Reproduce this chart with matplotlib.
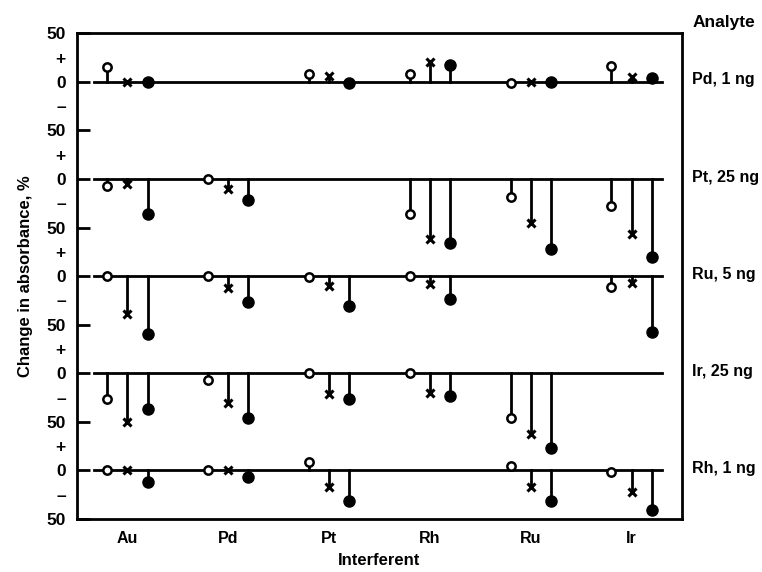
# Interference of platinum-group metals on each analyte (change in absorbance, %)

import numpy as np
import matplotlib
matplotlib.use("Agg")
import matplotlib.pyplot as plt

plt.rcParams["font.family"] = ["Liberation Sans", "DejaVu Sans"]
plt.rcParams["font.weight"] = "bold"

interferentes = ["Au", "Pd", "Pt", "Rh", "Ru", "Ir"]
analitos = ["Pd, 1 ng", "Pt, 25 ng", "Ru, 5 ng", "Ir, 25 ng", "Rh, 1 ng"]

# one row per analyte, one column per interferent (None = analyte itself)
circulo_aberto = [
    [15, None, 8, 8, -1, 16],
    [-7, 0, None, -36, -18, -28],
    [0, 0, -1, 0, None, -11],
    [-26, -7, 0, 0, -46, None],
    [0, 0, 9, None, 5, -2],
]
cruz = [
    [0, None, 6, 21, 0, 5],
    [-5, -10, None, -62, -45, -57],
    [-39, -12, -10, -8, None, -7],
    [-50, -31, -21, -20, -62, None],
    [0, 0, -17, None, -17, -22],
]
circulo_cheio = [
    [0, None, -1, 17, 0, 4],
    [-36, -22, None, -66, -72, -80],
    [-60, -27, -31, -23, None, -57],
    [-37, -46, -26, -23, -77, None],
    [-12, -7, -32, None, -32, -41],
]

series = [
    (circulo_aberto, -0.2, dict(marker="o", ms=6, mfc="white", mec="black", mew=1.8)),
    (cruz, 0.0, dict(marker="x", ms=5.5, mec="black", mew=2.2)),
    (circulo_cheio, 0.2, dict(marker="o", ms=8, mfc="black", mec="black")),
]

fig = plt.figure(figsize=(7.62, 5.72), dpi=100)
ax = fig.add_axes([0.101, 0.0927, 0.794, 0.849])

x_grupos = np.arange(len(interferentes))
for i, analito in enumerate(analitos):
    base = -100 * i
    ax.plot([-0.33, 5.3], [base, base], color="black", lw=2, zorder=2)
    for valores, dx, estilo in series:
        for j, v in enumerate(valores[i]):
            if v is None:
                continue
            x = x_grupos[j] + dx
            ax.plot([x, x], [base, base + v], color="black", lw=2, zorder=2)
            ax.plot(x, base + v, linestyle="none", zorder=3, **estilo)
    ax.text(5.6, base + 2, analito, fontsize=11.5, fontweight="bold",
            va="center", ha="left", clip_on=False)

ax.text(5.6, 61, "Analyte", fontsize=12.5, fontweight="bold",
        va="center", ha="left", clip_on=False)

ax.set_xlim(-0.5, 5.5)
ax.set_ylim(-450, 50)

ax.set_xticks(x_grupos)
ax.set_xticklabels(interferentes, fontsize=11.5, fontweight="bold")
ax.tick_params(axis="x", length=0, pad=9)

maiores = np.arange(50, -451, -50)
ax.set_yticks(maiores)
ax.set_yticklabels(["50" if v % 100 else "0" for v in maiores],
                   fontsize=12.5, fontweight="bold")
menores = np.arange(25, -426, -50)
ax.set_yticks(menores, minor=True)
ax.set_yticklabels(["+" if (v - 25) % 100 == 0 else "\u2013" for v in menores],
                   minor=True, fontsize=12.5, fontweight="bold")
ax.tick_params(axis="y", which="major", direction="in", length=9, width=2, pad=8)
ax.tick_params(axis="y", which="minor", length=0, pad=8)

for lado in ax.spines.values():
    lado.set_linewidth(2)

ax.set_xlabel("Interferent", fontsize=12, fontweight="bold", labelpad=5)
ax.set_ylabel("Change in absorbance, %", fontsize=12, fontweight="bold", labelpad=10)

fig.savefig("out.png", dpi=100)
plt.close(fig)
